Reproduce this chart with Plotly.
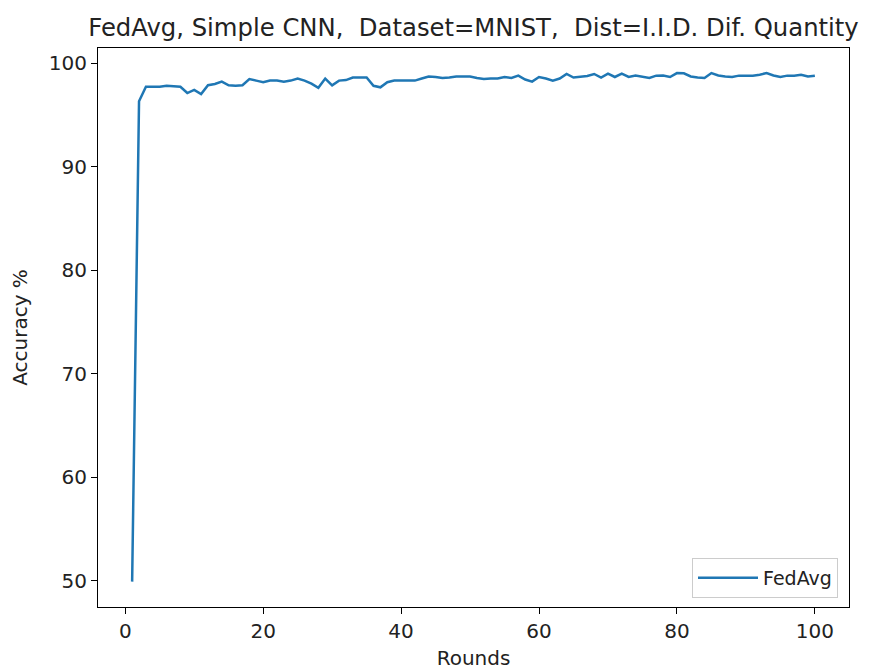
import plotly.graph_objects as go

rounds = list(range(1, 101))
accuracy = [
    49.9, 96.3, 97.7, 97.7, 97.7, 97.8, 97.75, 97.7, 97.1, 97.4,
    97.0, 97.85, 97.97, 98.2, 97.85, 97.8, 97.85, 98.45, 98.3, 98.15,
    98.3, 98.3, 98.2, 98.3, 98.5, 98.3, 98.0, 97.6, 98.5, 97.85,
    98.3, 98.35, 98.6, 98.6, 98.6, 97.8, 97.65, 98.15, 98.3, 98.3,
    98.3, 98.3, 98.5, 98.7, 98.65, 98.55, 98.6, 98.7, 98.7, 98.7,
    98.55, 98.45, 98.5, 98.5, 98.65, 98.55, 98.78, 98.4, 98.2, 98.65,
    98.5, 98.3, 98.5, 98.94, 98.6, 98.7, 98.75, 98.94, 98.6, 98.97,
    98.65, 98.97, 98.65, 98.78, 98.65, 98.55, 98.78, 98.8, 98.65, 99.03,
    99.0, 98.7, 98.6, 98.55, 99.03, 98.8, 98.7, 98.65, 98.78, 98.78,
    98.78, 98.87, 99.03, 98.8, 98.65, 98.78, 98.78, 98.87, 98.7, 98.78,
]
x_ticks = [0, 20, 40, 60, 80, 100]
y_ticks = [50, 60, 70, 80, 90, 100]

fig = go.Figure()
fig.add_trace(go.Scatter(
    x=rounds, y=accuracy, mode="lines", name="FedAvg",
    line=dict(color="#1f77b4", width=2.5),
))

axis_common = dict(
    showgrid=False, zeroline=False, showline=True, linecolor="black",
    linewidth=1, mirror=True, ticks="outside", ticklen=6, tickwidth=1,
    tickcolor="black", automargin=False,
    tickfont=dict(family="DejaVu Sans", size=20, color="#222222"),
)

fig.update_layout(
    width=865, height=663,
    margin=dict(l=90, r=24, t=40, b=64),
    paper_bgcolor="white", plot_bgcolor="white",
    font=dict(family="DejaVu Sans", color="#222222"),
    title=dict(
        text="FedAvg, Simple CNN,  Dataset=MNIST,  Dist=I.I.D. Dif. Quantity",
        x=0.5, xref="paper", xanchor="center",
        y=1 - 19 / 663, yref="container", yanchor="middle",
        font=dict(family="DejaVu Sans", size=24.3, color="#222222"),
    ),
    xaxis=dict(
        range=[-3.95, 104.95], tickvals=x_ticks,
        title=dict(text="Rounds", font=dict(size=20), standoff=8),
        **axis_common,
    ),
    yaxis=dict(
        range=[47.45, 101.45], tickvals=y_ticks,
        title=dict(text="Accuracy %", font=dict(size=20), standoff=22),
        **axis_common,
    ),
    showlegend=True,
    legend=dict(
        x=1 - 11 / 751, y=9 / 559, xanchor="right", yanchor="bottom",
        bordercolor="#cccccc", borderwidth=1, bgcolor="rgba(255,255,255,0.8)",
        itemwidth=60,
        font=dict(family="DejaVu Sans", size=19, color="#222222"),
    ),
)

fig.write_html("out.html")
